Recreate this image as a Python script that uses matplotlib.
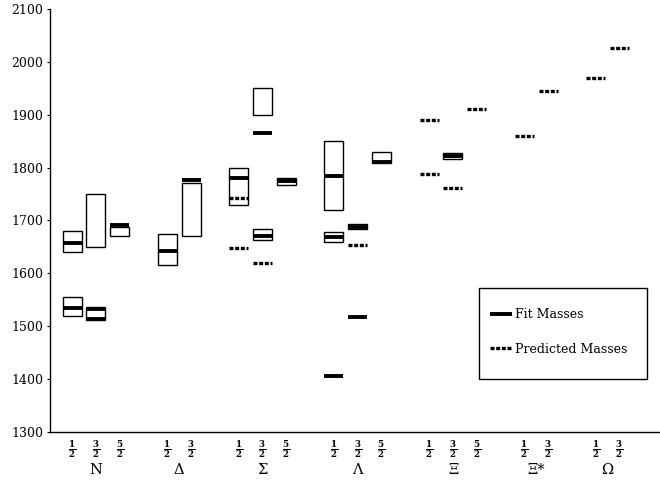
import matplotlib
matplotlib.use("Agg")
import matplotlib.pyplot as plt
from matplotlib.lines import Line2D
from matplotlib.patches import Rectangle

plt.rcParams['font.family'] = ['DejaVu Serif']
plt.rcParams['mathtext.fontset'] = 'dejavuserif'

# ---------------- 数据区 ----------------
# 每个自旋态在横轴上的位置（以“格”为单位）
state_pos = [0, 1, 2, 4, 5, 7, 8, 9, 11, 12, 13, 15, 16, 17, 19, 20, 22, 23]
state_spin = ['1', '3', '5', '1', '3', '1', '3', '5', '1', '3', '5',
              '1', '3', '5', '1', '3', '1', '3']

group_names = ['N', 'Δ', 'Σ', 'Λ', 'Ξ', 'Ξ*', 'Ω']
group_pos = [1, 4.5, 8, 12, 16, 19.5, 22.5]

# 实验区间（方框）
box_pos = [0, 0, 1, 1, 2, 4, 5, 7, 8, 8, 9, 11, 11, 12, 13, 16]
box_lo = [1640, 1520, 1650, 1511, 1670, 1615, 1670, 1730, 1899, 1664, 1768,
          1720, 1659, 1684, 1808, 1817]
box_hi = [1680, 1555, 1750, 1537, 1687, 1675, 1770, 1800, 1951, 1684, 1780,
          1850, 1679, 1693, 1830, 1828]

# 拟合质量
fit_pos = [0, 0, 1, 1, 2, 4, 5, 7, 8, 8, 9, 11, 11, 11, 12, 12, 13, 16]
fit_mass = [1658, 1534, 1533, 1513, 1692, 1642, 1776, 1780, 1865, 1670, 1774,
            1784, 1668, 1406, 1688, 1518, 1810, 1822]

# 预测质量
pred_pos = [7, 7, 8, 12, 15, 15, 16, 17, 19, 20, 22, 23]
pred_mass = [1742, 1647, 1620, 1653, 1890, 1787, 1762, 1910, 1860, 1944,
             1970, 2027]

Y_TICKS = [1300, 1400, 1500, 1600, 1700, 1800, 1900, 2000, 2100]
# ---------------------------------------

W = 0.8  # 方框/横线宽度
FIT_STYLE = dict(color='black', lw=2.8, solid_capstyle='butt')
PRED_STYLE = dict(color='black', lw=2.4, linestyle=(0, (1.2, 0.5)),
                  dash_capstyle='butt')

fig = plt.figure(figsize=(6.6, 4.97), dpi=100)
ax = fig.add_axes([0.0758, 0.1308, 0.9242, 0.8512])

for x, lo, hi in zip(box_pos, box_lo, box_hi):
    ax.add_patch(Rectangle((x - W / 2, lo), W, hi - lo, fill=False,
                           edgecolor='black', linewidth=1.0))

for x, m in zip(fit_pos, fit_mass):
    ax.plot([x - W / 2, x + W / 2], [m, m], **FIT_STYLE)

for x, m in zip(pred_pos, pred_mass):
    ax.plot([x - W / 2, x + W / 2], [m, m], **PRED_STYLE)

ax.set_xlim(-0.924, 24.7)
ax.set_ylim(1300, 2100)
ax.set_yticks(Y_TICKS)
ax.set_xticks([])
ax.tick_params(axis='y', length=2, width=0.8, pad=3, labelsize=9)
for side in ['top', 'right']:
    ax.spines[side].set_visible(False)
ax.spines['left'].set_linewidth(1.0)
ax.spines['bottom'].set_linewidth(1.0)

# 横轴标签：自旋分数与粒子名
trans = ax.get_xaxis_transform()
for x, s in zip(state_pos, state_spin):
    ax.text(x, -0.04, r'$\mathbf{\frac{%s}{2}}$' % s, transform=trans,
            ha='center', va='center', fontsize=9)
for x, name in zip(group_pos, group_names):
    ax.text(x, -0.09, name, transform=trans, ha='center', va='center',
            fontsize=10.5)

# 图例：外框单独画，方便控制尺寸
ax.add_patch(Rectangle((0.703, 0.125), 0.276, 0.215, transform=ax.transAxes,
                       fill=False, edgecolor='black', linewidth=1.0))
handles = [Line2D([], [], **FIT_STYLE), Line2D([], [], **PRED_STYLE)]
ax.legend(handles, ['Fit Masses', 'Predicted Masses'],
          loc='center left', bbox_to_anchor=(0.721, 0.2365),
          fontsize=9, frameon=False,
          handlelength=1.75, handletextpad=0.25,
          labelspacing=1.7, borderpad=0, borderaxespad=0)

fig.savefig('out.png', dpi=100)
